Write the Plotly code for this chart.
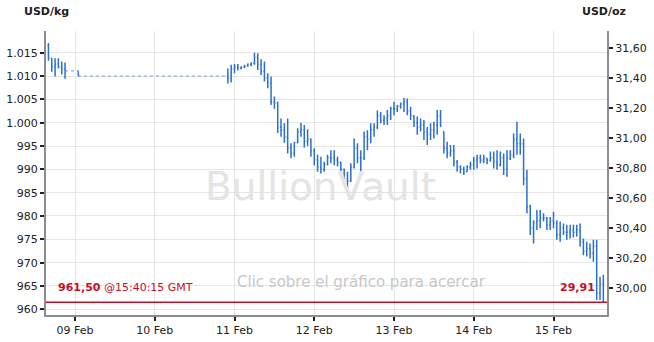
import plotly.graph_objects as go
import pandas as pd

# ---- data (USD/kg, hourly bars) ----
seg1_times = ["2013-02-08 16:00", "2013-02-08 17:00", "2013-02-08 18:00", "2013-02-08 19:00",
              "2013-02-08 20:00", "2013-02-08 21:00", "2013-02-09 01:00"]
seg1_high = [1017.1, 1013.8, 1013.8, 1013.8, 1013.1, 1012.9, 1011.1]
seg1_low = [1013.3, 1010.9, 1009.9, 1011.6, 1010.3, 1009.4, 1010.0]
seg1_close = [1013.8, 1012.0, 1012.5, 1012.0, 1011.5, 1011.1, 1010.0]
first_open = 1016.5

seg2_start = "2013-02-10 22:00"
seg2_high = [
    1011.6, 1012.4, 1012.6, 1012.6, 1012.1, 1012.4, 1012.7, 1012.9, 1015.0, 1014.9,
    1013.6, 1013.1, 1010.6, 1009.9, 1005.6, 1004.5, 1000.9, 999.9, 1000.9, 995.6,
    995.9, 998.8, 1000.0, 999.5, 998.6, 996.6, 994.5, 993.1, 992.7, 991.6,
    993.1, 994.1, 994.1, 992.7, 991.6, 990.2, 989.5, 991.3, 996.6, 995.6,
    994.1, 998.1, 998.4, 999.9, 999.9, 1002.6, 1002.3, 1001.6, 1002.7, 1003.4,
    1004.5, 1003.8, 1004.3, 1005.3, 1005.2, 1003.4, 1001.6, 1001.3, 1000.9, 1000.6,
    999.1, 999.9, 1000.2, 1002.7, 1002.7, 998.1, 995.9, 995.2, 995.2, 992.0,
    990.9, 990.6, 990.9, 991.6, 992.7, 993.1, 993.1, 993.1, 992.4, 993.8,
    993.8, 994.1, 993.8, 993.4, 994.1, 994.1, 997.7, 1000.2, 997.7, 996.6,
    989.9, 982.4, 979.1, 981.3, 981.3, 980.6, 979.8, 979.8, 980.9, 979.1,
    978.8, 978.4, 978.1, 978.1, 978.1, 978.1, 978.4, 975.2, 974.5, 974.1,
    974.9, 974.9, 967.0, 967.4]
seg2_low = [
    1008.4, 1008.6, 1010.6, 1011.2, 1011.4, 1011.7, 1012.0, 1012.1, 1012.4, 1011.3,
    1010.2, 1008.8, 1007.4, 1003.8, 1003.0, 997.8, 997.0, 995.7, 993.4, 992.4,
    992.7, 995.6, 997.0, 994.7, 995.0, 992.7, 990.9, 989.5, 989.1, 989.5,
    990.9, 991.3, 990.9, 990.6, 989.1, 987.0, 985.9, 987.3, 990.2, 991.3,
    989.5, 992.0, 994.1, 995.6, 997.0, 998.6, 999.9, 999.5, 999.5, 1000.6,
    1001.6, 1002.3, 1003.0, 1002.3, 1001.6, 1000.6, 999.1, 997.4, 998.1, 996.3,
    995.2, 996.3, 996.6, 997.4, 999.1, 993.4, 992.4, 992.7, 990.6, 989.5,
    989.1, 988.8, 989.5, 989.9, 989.9, 990.2, 991.3, 991.3, 991.1, 991.6,
    990.2, 989.9, 990.6, 988.8, 988.4, 992.0, 992.4, 993.1, 993.1, 986.6,
    980.6, 975.9, 974.1, 977.0, 977.4, 978.8, 977.0, 977.0, 977.4, 974.9,
    974.5, 975.9, 974.9, 975.2, 975.4, 975.6, 973.4, 971.6, 971.3, 970.9,
    970.2, 962.0, 962.0, 961.5]
seg2_close = [
    1009.5, 1011.5, 1012.0, 1011.8, 1011.9, 1012.2, 1012.5, 1012.8, 1014.0, 1012.5,
    1011.0, 1009.5, 1008.5, 1004.5, 1004.2, 999.0, 998.5, 997.0, 994.5, 993.5,
    995.7, 998.0, 998.5, 996.0, 996.5, 994.0, 992.0, 990.5, 990.0, 991.0,
    992.5, 992.5, 992.0, 991.5, 990.0, 988.0, 987.5, 990.5, 994.5, 992.5,
    992.5, 997.0, 996.5, 998.5, 999.0, 1001.5, 1000.5, 1001.0, 1001.5, 1003.0,
    1003.0, 1003.5, 1004.0, 1004.5, 1002.5, 1001.5, 1000.0, 999.0, 999.5, 998.0,
    997.5, 998.5, 999.5, 1001.5, 999.5, 994.5, 993.5, 994.0, 991.5, 990.5,
    990.0, 989.5, 990.5, 991.0, 992.0, 992.5, 992.0, 992.5, 992.0, 992.5,
    991.5, 991.0, 992.5, 990.0, 992.5, 993.0, 996.5, 995.5, 995.5, 988.0,
    982.0, 977.5, 978.5, 979.0, 979.5, 979.5, 978.0, 979.0, 978.5, 976.0,
    977.5, 976.5, 976.5, 977.0, 976.5, 977.0, 974.5, 972.5, 973.0, 972.0,
    973.5, 963.5, 965.5, 961.5]

weekend_x = ["2013-02-08 21:00", "2013-02-09 01:00", "2013-02-09 01:00", "2013-02-10 22:00"]
weekend_y = [1011.1, 1011.1, 1010.0, 1010.0]

last_price = 961.50
last_oz = "29,91"
last_time = "15:40:15 GMT"

day_ticks = ["2013-02-09", "2013-02-10", "2013-02-11", "2013-02-12", "2013-02-13", "2013-02-14", "2013-02-15"]
day_labels = ["09 Feb", "10 Feb", "11 Feb", "12 Feb", "13 Feb", "14 Feb", "15 Feb"]
kg_ticks = [960, 965, 970, 975, 980, 985, 990, 995, 1000, 1005, 1010, 1015]
kg_labels = ["960", "965", "970", "975", "980", "985", "990", "995", "1.000", "1.005", "1.010", "1.015"]
oz_ticks = [30.0, 30.2, 30.4, 30.6, 30.8, 31.0, 31.2, 31.4, 31.6]
oz_labels = ["30,00", "30,20", "30,40", "30,60", "30,80", "31,00", "31,20", "31,40", "31,60"]
OZ_PER_KG = 32.1507

# ---- assemble ----
seg2_times = list(pd.date_range(seg2_start, periods=len(seg2_high), freq="h"))
times = list(pd.to_datetime(seg1_times)) + seg2_times
highs = seg1_high + seg2_high
lows = seg1_low + seg2_low
closes = seg1_close + seg2_close
opens = [first_open]
for i in range(1, len(closes)):
    opens.append(min(max(closes[i - 1], lows[i]), highs[i]))

BLUE = "#2b6fd0"
RED = "#c3102a"
YMIN, YMAX = 958.78, 1019.65

# plot-area geometry in pixels (for paper-coordinate placement of texts)
L, R, T, B = 46, 47, 31, 27
PW, PH = 654 - L - R, 342 - T - B


def px(xp):
    return (xp - L) / PW


def py(yp):
    return (342 - B - yp) / PH


fig = go.Figure()
fig.add_trace(go.Scatter(x=weekend_x, y=weekend_y, mode="lines",
                         line=dict(color="#6f9be0", width=1, dash="dot"), hoverinfo="skip",
                         showlegend=False))
fig.add_trace(go.Ohlc(x=times, open=opens, high=highs, low=lows, close=closes,
                      increasing=dict(line=dict(color=BLUE, width=1.5)),
                      decreasing=dict(line=dict(color=BLUE, width=1.5)),
                      tickwidth=0.3, hoverinfo="skip", showlegend=False))
fig.add_trace(go.Scatter(x=[times[0]], y=[30.5], yaxis="y2", mode="markers",
                         marker=dict(opacity=0), hoverinfo="skip", showlegend=False))

axis_font = dict(family="DejaVu Sans", size=11, color="#222222")
fig.update_layout(
    width=654, height=342,
    margin=dict(l=L, r=R, t=T, b=B, autoexpand=False),
    paper_bgcolor="white", plot_bgcolor="white",
    showlegend=False,
    xaxis=dict(type="date", range=["2013-02-08 15:16", "2013-02-15 16:06"],
               tickvals=day_ticks, ticktext=day_labels, tickfont=axis_font,
               showgrid=True, gridcolor="#e6e6e6", gridwidth=1,
               showline=True, linecolor="#8c8c8c", linewidth=2,
               ticks="outside", ticklen=4, tickcolor="#222222", tickwidth=2,
               rangeslider=dict(visible=False), zeroline=False, fixedrange=True,
               automargin=False),
    yaxis=dict(range=[YMIN, YMAX], tickvals=kg_ticks, ticktext=kg_labels, tickfont=axis_font,
               showgrid=True, gridcolor="#e6e6e6", gridwidth=1,
               showline=True, linecolor="#8c8c8c", linewidth=2,
               ticks="outside", ticklen=4, tickcolor="#222222", tickwidth=2,
               zeroline=False, fixedrange=True, automargin=False),
    yaxis2=dict(range=[YMIN / OZ_PER_KG, YMAX / OZ_PER_KG], overlaying="y", side="right",
                tickvals=oz_ticks, ticktext=oz_labels, tickfont=axis_font,
                showgrid=False, showline=True, linecolor="#8c8c8c", linewidth=2,
                ticks="outside", ticklen=4, tickcolor="#222222", tickwidth=2,
                zeroline=False, fixedrange=True, automargin=False),
)

fig.add_shape(type="line", xref="paper", x0=0, x1=1, yref="y", y0=last_price, y1=last_price,
              line=dict(color=RED, width=1.5), layer="above")

fig.add_annotation(xref="paper", yref="paper", x=px(320), y=py(187), text="BullionVault",
                   showarrow=False, font=dict(family="DejaVu Sans", size=39, color="#e4e4e4"))
fig.add_annotation(xref="paper", yref="paper", x=px(361.5), y=py(293),
                   text="Clic sobre el gráfico para acercar", showarrow=False,
                   font=dict(family="DejaVu Sans", size=15, color="#c8c8c8"))
fig.add_annotation(xref="paper", yref="paper", x=px(56), xanchor="left", y=py(295.5),
                   text="<b>961,50</b> @" + last_time, showarrow=False,
                   font=dict(family="DejaVu Sans", size=11, color=RED))
fig.add_annotation(xref="paper", yref="paper", x=px(597), xanchor="right", y=py(295.5),
                   text="<b>" + last_oz + "</b>", showarrow=False,
                   font=dict(family="DejaVu Sans", size=11, color=RED))
fig.add_annotation(xref="paper", yref="paper", x=px(22), xanchor="left", y=py(12),
                   yanchor="middle", text="<b>USD/kg</b>", showarrow=False,
                   font=dict(family="DejaVu Sans", size=11, color="#222222"))
fig.add_annotation(xref="paper", yref="paper", x=px(628), xanchor="right", y=py(12),
                   yanchor="middle", text="<b>USD/oz</b>", showarrow=False,
                   font=dict(family="DejaVu Sans", size=11, color="#222222"))

fig.write_html("out.html")
